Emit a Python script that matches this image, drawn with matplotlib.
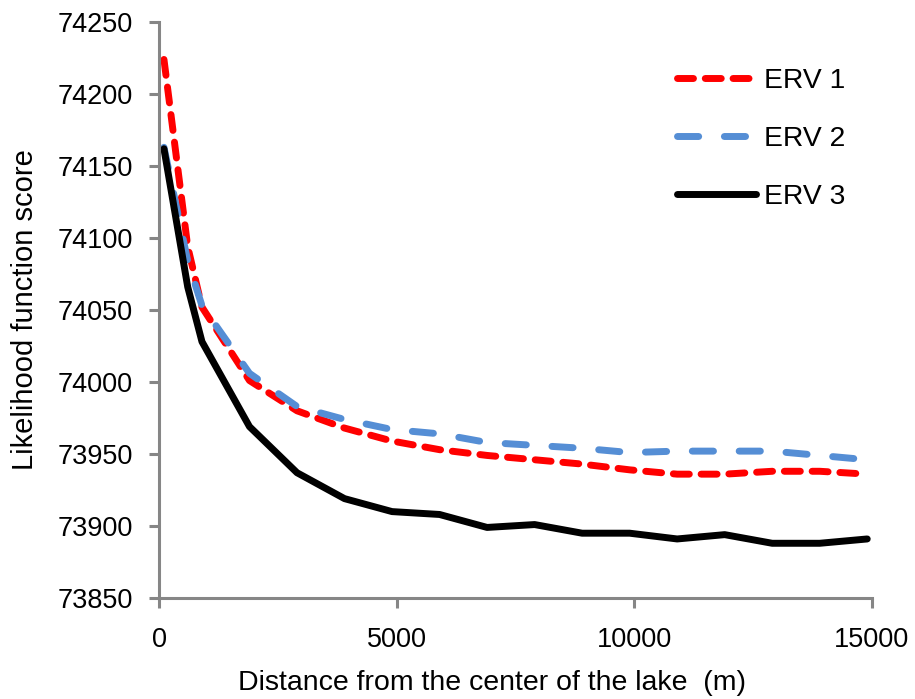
import matplotlib
matplotlib.use("Agg")
import matplotlib.pyplot as plt

plt.rcParams['font.family'] = ['Liberation Sans', 'DejaVu Sans']

# distance from lake centre (m)
distance = [100, 600, 900, 1900, 2900, 3900, 4900, 5900, 6900, 7900,
            8900, 9900, 10900, 11900, 12900, 13900, 14900]

erv1 = [74224, 74094, 74052, 74001, 73980, 73968, 73959, 73953, 73949, 73946,
        73943, 73939, 73936, 73936, 73938, 73938, 73936]
erv2 = [74163, 74084, 74053, 74006, 73983, 73974, 73967, 73964, 73958, 73956,
        73954, 73951, 73952, 73952, 73952, 73949, 73946]
erv3 = [74162, 74066, 74028, 73969, 73937, 73919, 73910, 73908, 73899, 73901,
        73895, 73895, 73891, 73894, 73888, 73888, 73891]

y_ticks = [73850, 73900, 73950, 74000, 74050, 74100, 74150, 74200, 74250]
x_ticks = [0, 5000, 10000, 15000]

fig = plt.figure(figsize=(9.15, 6.99), dpi=100)
ax = fig.add_axes([0.174, 0.1445, 0.779, 0.824])

lw = 5
ax.plot(distance, erv1, color='#ff0000', lw=lw, linestyle=(0, (2.3, 1.7)),
        dash_capstyle='round', label='ERV 1')
ax.plot(distance, erv2, color='#558ed5', lw=lw, linestyle=(0, (3.05, 3.7)),
        dash_capstyle='round', label='ERV 2')
ax.plot(distance, erv3, color='black', lw=lw, solid_capstyle='round',
        label='ERV 3')

ax.set_xlim(0, 15000)
ax.set_ylim(73850, 74250)
ax.set_xticks(x_ticks)
ax.set_yticks(y_ticks)

gray = '#868686'
for s in ['top', 'right']:
    ax.spines[s].set_visible(False)
for s in ['left', 'bottom']:
    ax.spines[s].set_color(gray)
    ax.spines[s].set_linewidth(2.2)
ax.tick_params(colors=gray, width=2.2, length=7, labelsize=19.5, labelcolor='black')
ax.tick_params(axis='y', pad=12)
ax.tick_params(axis='x', pad=14)

ax.set_xlabel('Distance from the center of the lake  (m)', fontsize=20.5,
              labelpad=12, x=0.467)
ax.set_ylabel('Likelihood function score', fontsize=21, labelpad=13)

ax.legend(loc='upper left', bbox_to_anchor=(0.726, 0.921), frameon=False,
          fontsize=20.3, handlelength=2.8, handletextpad=0.3, labelspacing=1.14,
          borderpad=0, borderaxespad=0)

fig.savefig('out.png', dpi=100)
